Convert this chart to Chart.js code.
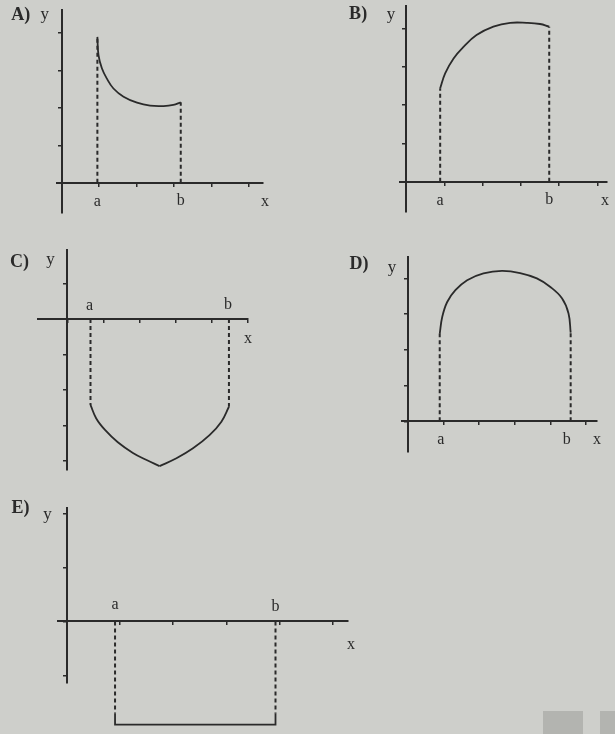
<!DOCTYPE html>
<html>
<head>
<meta charset="utf-8">
<script src="https://cdn.jsdelivr.net/npm/chart.js@4.4.1/dist/chart.umd.min.js"></script>
<style>
  html, body { margin: 0; padding: 0; }
  body { width: 615px; height: 734px; background: #cecfcb; position: relative; overflow: hidden; }
  canvas { position: absolute; }
  .smudge { position: absolute; background: #b3b4b0; }
</style>
</head>
<body>
<canvas id="chartA"></canvas>
<canvas id="chartB"></canvas>
<canvas id="chartC"></canvas>
<canvas id="chartD"></canvas>
<canvas id="chartE"></canvas>
<div class="smudge" style="left:543px;top:711px;width:40px;height:23px"></div>
<div class="smudge" style="left:600px;top:711px;width:15px;height:23px"></div>
<script>
// values, 1 unit = one tick step

const panelNames = ['A)', 'B)', 'C)', 'D)', 'E)'];
const axisNames = ['x', 'y'];
const boundNames = ['a', 'b'];

// A) falling curve
const aRangeX = [-0.13, 5.38];
const aRangeY = [-0.81, 4.62];
const aBounds = [0.95, 3.18];
const aCurveX = [0.95, 0.98, 1.07, 1.20, 1.38, 1.65, 2.01, 2.36, 2.72, 2.98, 3.18];
const aCurveY = [3.90, 3.41, 3.06, 2.79, 2.52, 2.30, 2.14, 2.06, 2.05, 2.08, 2.15];

// B) rising curve
const bRangeX = [-0.16, 5.25];
const bRangeY = [-0.79, 4.59];
const bBounds = [0.89, 3.74];
const bCurveX = [0.89, 1.02, 1.24, 1.50, 1.84, 2.28, 2.72, 3.15, 3.50, 3.74];
const bCurveY = [2.44, 2.83, 3.22, 3.52, 3.83, 4.05, 4.15, 4.15, 4.12, 4.05];

// C) curve under the x axis, two arms
const cRangeX = [-0.82, 5.02];
const cRangeY = [-4.25, 1.94];
const cBounds = [0.64, 4.49];
const cLeftX = [0.64, 0.80, 1.05, 1.40, 1.82, 2.20, 2.56];
const cLeftY = [-2.42, -2.80, -3.13, -3.47, -3.77, -3.97, -4.14];
const cRightX = [2.56, 3.03, 3.49, 3.95, 4.28, 4.49];
const cRightY = [-4.14, -3.92, -3.64, -3.27, -2.89, -2.47];

// D) arch
const dRangeX = [-0.17, 5.31];
const dRangeY = [-0.86, 4.60];
const dBounds = [0.89, 4.57];
const dCurveX = [0.89, 0.96, 1.10, 1.33, 1.66, 2.12, 2.64, 3.15, 3.62, 4.00, 4.33, 4.51, 4.57];
const dCurveY = [2.45, 2.92, 3.34, 3.67, 3.95, 4.14, 4.21, 4.15, 4.00, 3.76, 3.44, 3.02, 2.48];

// E) constant below the axis
const eRangeX = [-0.16, 5.28];
const eRangeY = [-1.14, 2.10];
const eBounds = [0.91, 3.92];
const eLevel = -1.91;
const eDashEnd = -1.70;

// ---------------------------------------------------------------------

const INK = '#2a2a2a';
const FONT = '"Liberation Serif", "DejaVu Serif", serif';

// draws letters next to the axes, anchored on data values
const textPlugin = {
  id: 'texts',
  afterDraw(chart, args, opts) {
    const ctx = chart.ctx;
    const xs = chart.scales.x, ys = chart.scales.y;
    ctx.save();
    ctx.fillStyle = INK;
    ctx.textAlign = 'center';
    ctx.textBaseline = 'middle';
    opts.items.forEach(function(t) {
      ctx.font = t.font || ('16px ' + FONT);
      ctx.fillText(t.text, xs.getPixelForValue(t.x) + t.dx, ys.getPixelForValue(t.y) + t.dy);
    });
    ctx.restore();
  }
};

function pts(xs, ys) {
  return xs.map(function(x, i) { return {x: x, y: ys[i]}; });
}

function curve(xs, ys, tension) {
  return {
    data: pts(xs, ys), showLine: true, tension: tension,
    borderColor: INK, borderWidth: 1.8, pointRadius: 0, clip: false
  };
}

function dashed(x, yEnd) {
  return {
    data: [{x: x, y: 0}, {x: x, y: yEnd}], showLine: true,
    borderColor: INK, borderWidth: 2, borderDash: [4, 3], pointRadius: 0, clip: false
  };
}

function axis(range, pos) {
  return {
    type: 'linear', min: range[0], max: range[1], position: pos,
    border: { color: INK, width: 2 },
    grid: { drawOnChartArea: false, drawTicks: true, tickLength: 3, color: INK, lineWidth: 1.5 },
    ticks: { display: false, stepSize: 1, includeBounds: false }
  };
}

function labels(i, bounds, rangeX, rangeY, off) {
  return [
    {text: panelNames[i], x: 0, y: rangeY[1], dx: off.name[0], dy: off.name[1], font: 'bold 18px ' + FONT},
    {text: axisNames[1], x: 0, y: rangeY[1], dx: off.y[0], dy: off.y[1], font: '17px ' + FONT},
    {text: boundNames[0], x: bounds[0], y: 0, dx: off.a[0], dy: off.a[1]},
    {text: boundNames[1], x: bounds[1], y: 0, dx: off.b[0], dy: off.b[1]},
    {text: axisNames[0], x: rangeX[1], y: 0, dx: off.x[0], dy: off.x[1]}
  ];
}

// area = where the axes box sits on the page
function panel(id, area, rangeX, rangeY, datasets, texts) {
  const cv = document.getElementById(id);
  const L = Math.max(0, area.l - 60), T = Math.max(0, area.t - 12);
  const R = Math.min(615, area.r + 25), B = Math.min(734, area.b + 50);
  cv.style.left = L + 'px';
  cv.style.top = T + 'px';
  cv.width = R - L;
  cv.height = B - T;
  new Chart(cv, {
    type: 'scatter',
    data: { datasets: datasets },
    options: {
      responsive: false,
      animation: false,
      events: [],
      layout: { padding: { left: area.l - L, top: area.t - T, right: R - area.r, bottom: B - area.b } },
      plugins: {
        legend: { display: false },
        tooltip: { enabled: false },
        texts: { items: texts }
      },
      scales: {
        x: axis(rangeX, {y: 0}),
        y: axis(rangeY, {x: 0})
      }
    },
    plugins: [textPlugin]
  });
}

panel('chartA', {l: 57, t: 10, r: 263, b: 213}, aRangeX, aRangeY, [
  curve(aCurveX, aCurveY, 0.4),
  dashed(aBounds[0], aCurveY[0]),
  dashed(aBounds[1], aCurveY[aCurveY.length - 1])
], labels(0, aBounds, aRangeX, aRangeY, {name: [-41, 5], y: [-17, 5], a: [0, 19], b: [0, 18], x: [2, 19]}));

panel('chartB', {l: 400, t: 6, r: 607, b: 212}, bRangeX, bRangeY, [
  curve(bCurveX, bCurveY, 0.4),
  dashed(bBounds[0], bCurveY[0]),
  dashed(bBounds[1], bCurveY[bCurveY.length - 1])
], labels(1, bBounds, bRangeX, bRangeY, {name: [-48, 8], y: [-15, 9], a: [0, 19], b: [0, 18], x: [-2, 19]}));

panel('chartC', {l: 38, t: 250, r: 248, b: 470}, cRangeX, cRangeY, [
  curve(cLeftX, cLeftY, 0.4),
  curve(cRightX, cRightY, 0.4),
  dashed(cBounds[0], cLeftY[0]),
  dashed(cBounds[1], cRightY[cRightY.length - 1])
], labels(2, cBounds, cRangeX, cRangeY, {name: [-48, 12], y: [-17, 10], a: [-1, -13], b: [-1, -14], x: [0, 20]}));

panel('chartD', {l: 402, t: 257, r: 597, b: 452}, dRangeX, dRangeY, [
  curve(dCurveX, dCurveY, 0.4),
  dashed(dBounds[0], dCurveY[0]),
  dashed(dBounds[1], dCurveY[dCurveY.length - 1])
], labels(3, dBounds, dRangeX, dRangeY, {name: [-49, 7], y: [-16, 11], a: [1, 19], b: [-4, 19], x: [0, 19]}));

panel('chartE', {l: 58, t: 508, r: 348, b: 683}, eRangeX, eRangeY, [
  curve([eBounds[0], eBounds[0], eBounds[1], eBounds[1]], [eDashEnd, eLevel, eLevel, eDashEnd], 0),
  dashed(eBounds[0], eDashEnd),
  dashed(eBounds[1], eDashEnd)
], labels(4, eBounds, eRangeX, eRangeY, {name: [-46, 0], y: [-19, 7], a: [0, -17], b: [0, -15], x: [3, 23]}));
</script>
</body>
</html>
